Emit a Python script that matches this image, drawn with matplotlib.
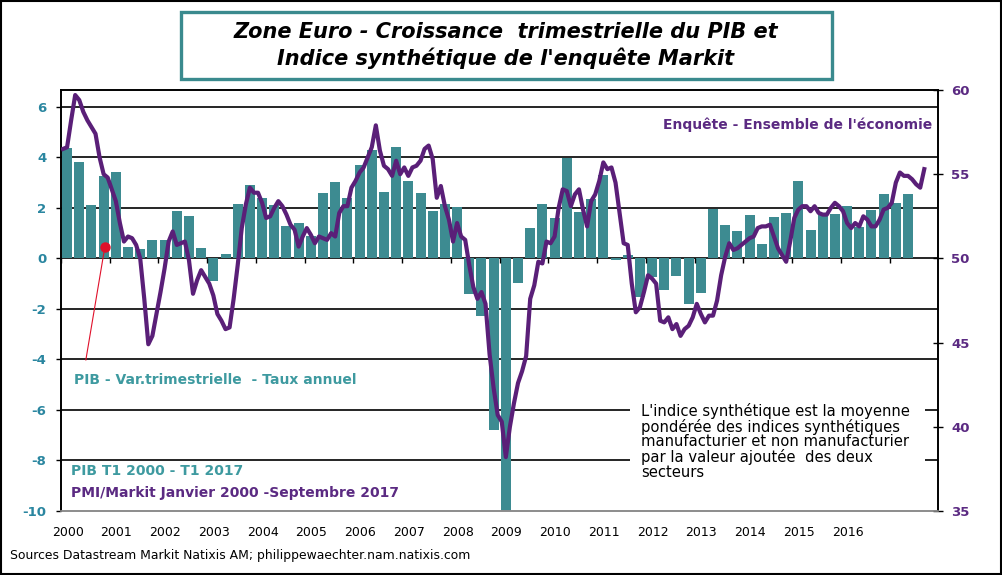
import matplotlib
matplotlib.use("Agg")
import matplotlib.pyplot as plt
import numpy as np
from matplotlib.patches import Rectangle
from matplotlib.transforms import blended_transform_factory

plt.rcParams['font.family'] = ['DejaVu Sans']

# ---------------- data ----------------
year_labels = [str(y) for y in range(2000, 2017)]
tick_years = list(range(2000, 2018))

# Euro area GDP, quarterly growth (annualised), Q1 2000 .. Q2 2017
pib_values = [4.36, 3.82, 2.12, 3.25, 3.43, 0.46, 0.38, 0.73,
              0.73, 1.88, 1.66, 0.42, -0.88, 0.18, 2.16, 2.91,
              2.40, 2.10, 1.29, 1.41, 0.87, 2.59, 3.03, 2.40,
              3.70, 4.30, 2.63, 4.42, 3.07, 2.59, 1.88, 2.16,
              2.04, -1.42, -2.30, -6.79, -11.5, -0.98, 1.21, 2.16,
              1.60, 3.98, 1.84, 2.36, 3.31, -0.05, 0.14, -1.51,
              -0.72, -1.27, -0.68, -1.82, -1.35, 1.97, 1.31, 1.09,
              1.72, 0.57, 1.64, 1.80, 3.07, 1.13, 1.72, 1.76,
              2.08, 1.26, 1.92, 2.55, 2.20, 2.55]
pib_start_year = 2000

# Markit composite PMI, monthly Jan 2000 .. Sep 2017
pmi_values = [
    56.5, 56.6, 58.2, 59.7, 59.4, 58.7, 58.2, 57.8, 57.4, 56.0, 55.0, 54.8,
    54.1, 53.4, 52.1, 51.0, 51.3, 51.2, 50.8, 50.0, 47.6, 44.9, 45.4, 46.7,
    48.0, 49.4, 51.0, 51.6, 50.8, 50.9, 51.0, 49.9, 47.9, 48.7, 49.3, 48.9,
    48.5, 47.8, 46.7, 46.3, 45.8, 45.9, 47.6, 49.6, 51.8, 53.2, 54.2, 53.9,
    53.9, 53.3, 52.4, 52.5, 53.0, 53.4, 53.1, 52.6, 52.0, 51.7, 50.7, 51.3,
    51.8, 51.4, 50.9, 51.3, 51.2, 51.1, 51.5, 51.3, 52.7, 53.1, 53.1, 54.2,
    54.6, 55.1, 55.4, 56.0, 56.6, 57.9, 56.4, 55.5, 55.3, 54.9, 55.8, 55.0,
    55.4, 54.9, 55.4, 55.5, 55.8, 56.5, 56.7, 55.9, 53.6, 54.3, 53.1, 52.3,
    51.0, 52.1, 51.3, 51.1, 49.6, 48.3, 47.6, 48.0, 47.3, 44.3, 42.3, 40.7,
    40.3, 38.2, 40.0, 41.4, 42.6, 43.3, 44.2, 47.6, 48.4, 49.8, 49.7, 51.0,
    50.9, 51.3, 53.0, 54.1, 54.0, 53.1, 53.8, 54.1, 52.9, 51.9, 53.4, 53.8,
    54.6, 55.7, 55.3, 55.4, 54.5, 52.7, 50.9, 50.8, 48.5, 46.8, 47.1, 48.0,
    49.0, 48.8, 48.5, 46.3, 46.2, 46.5, 45.8, 46.1, 45.4, 45.8, 46.0, 46.5,
    47.3, 46.7, 46.2, 46.6, 46.6, 47.5, 49.0, 50.1, 50.9, 50.5, 50.6, 50.8,
    51.0, 51.2, 51.3, 51.8, 51.9, 51.9, 52.0, 51.3, 50.6, 50.2, 49.8, 51.0,
    52.4, 52.9, 53.1, 53.1, 52.8, 53.1, 52.7, 52.6, 52.6, 53.0, 53.3, 53.1,
    52.8, 52.1, 51.8, 52.1, 51.9, 52.5, 52.3, 51.9, 51.9, 52.3, 52.9, 53.0,
    53.3, 54.5, 55.1, 54.9, 54.9, 54.7, 54.4, 54.2, 55.3]
pmi_start_year = 2000

left_ticks = [-10, -8, -6, -4, -2, 0, 2, 4, 6]
right_ticks = [35, 40, 45, 50, 55, 60]

# ---------------- styling ----------------
BAR_COLOR = "#3d8b91"
LINE_COLOR = "#5a1f78"
LEFT_LABEL_COLOR = "#2a86a0"
RIGHT_LABEL_COLOR = "#5b2a82"
LEGEND_TEAL = "#3e9aa0"

fig = plt.figure(figsize=(10.03, 5.75), dpi=100)
ax = fig.add_axes([0.0608, 0.1113, 0.8744, 0.7322])
ax2 = ax.twinx()

x_bars = pib_start_year + (np.arange(len(pib_values)) + 0.5) / 4
x_pmi = pmi_start_year + (np.arange(len(pmi_values)) + 0.5) / 12

ax.set_xlim(2000, 2017.99)
ax.set_ylim(-10, 6.667)
ax2.set_ylim(35, 60)

# grid lines
for v in left_ticks[1:]:
    ax.axhline(v, color="black", lw=1.2, zorder=0)

ax.bar(x_bars, pib_values, width=0.205, color=BAR_COLOR, zorder=2)
ax2.plot(x_pmi, pmi_values, color=LINE_COLOR, lw=3.0, solid_joinstyle="round", zorder=5)

# x axis: labels at bottom, tick marks on zero line
ax.set_xticks([y + 0.135 for y in range(2000, 2017)])
ax.set_xticklabels(year_labels, fontsize=9)
ax.tick_params(axis="x", length=0, pad=11)
trans = blended_transform_factory(ax.transData, ax.transAxes)
zero_frac = (0 - (-10)) / (6.667 + 10)
ax.vlines(tick_years, zero_frac - 0.012, zero_frac, transform=trans,
          color="black", lw=1.0, zorder=3)

ax.set_yticks(left_ticks)
ax.set_yticklabels([str(t) for t in left_ticks], fontsize=9.5,
                   fontweight="bold", color=LEFT_LABEL_COLOR)
ax.tick_params(axis="y", direction="out", length=3.5, width=1, pad=7)

ax2.set_yticks(right_ticks)
ax2.set_yticklabels([str(t) for t in right_ticks], fontsize=9.5,
                    fontweight="bold", color=RIGHT_LABEL_COLOR)
ax2.tick_params(axis="y", direction="inout", length=7, width=1, pad=6)

for a in (ax, ax2):
    a.spines["top"].set_color("black")
    a.spines["top"].set_linewidth(1.2)
    a.spines["left"].set_linewidth(1.2)
    a.spines["right"].set_linewidth(1.2)
    a.spines["bottom"].set_color("#8c8c8c")
    a.spines["bottom"].set_linewidth(1.2)

# red pointer
ax.plot([2000.51, 2000.90], [-4.02, 0.455], color="#e0102a", lw=0.8, zorder=6)
ax.plot([2000.90], [0.455], "o", color="#e0102a", ms=6.5, zorder=7)

# texts
fig.text(0.929, 0.7826, "Enquête - Ensemble de l'économie", ha="right", va="center",
         fontsize=10, fontweight="bold", color=RIGHT_LABEL_COLOR)
fig.text(0.0738, 0.339, "PIB - Var.trimestrielle  - Taux annuel", ha="left", va="center",
         fontsize=10, fontweight="bold", color=LEGEND_TEAL)
fig.text(0.0708, 0.181, "PIB T1 2000 - T1 2017", ha="left", va="center",
         fontsize=10, fontweight="bold", color=LEGEND_TEAL)
fig.text(0.0708, 0.1426, "PMI/Markit Janvier 2000 -Septembre 2017", ha="left", va="center",
         fontsize=10, fontweight="bold", color=RIGHT_LABEL_COLOR)

fig.patches.append(Rectangle((630 / 1003, 1 - 487 / 575), 295 / 1003, 88 / 575,
                             transform=fig.transFigure, facecolor="white",
                             edgecolor="none", zorder=3))
fig.text(641 / 1003, 1 - 403 / 575,
         "L'indice synthétique est la moyenne\npondérée des indices synthétiques\n"
         "manufacturier et non manufacturier\npar la valeur ajoutée  des deux\nsecteurs",
         ha="left", va="top", fontsize=10.6, linespacing=0.98, color="black", zorder=4)

fig.text(10 / 1003, 1 - 556 / 575,
         "Sources Datastream Markit Natixis AM; philippewaechter.nam.natixis.com",
         ha="left", va="center", fontsize=8.9, color="black")

# title box
fig.patches.append(Rectangle((181 / 1003, 1 - 79 / 575), 651 / 1003, 67 / 575,
                             transform=fig.transFigure, facecolor="white",
                             edgecolor="#3a8a8e", lw=2.4))
fig.text(506 / 1003, 1 - 32 / 575, "Zone Euro - Croissance  trimestrielle du PIB et",
         ha="center", va="center", fontsize=15, fontweight="bold", style="italic")
fig.text(506 / 1003, 1 - 58 / 575, "Indice synthétique de l'enquête Markit",
         ha="center", va="center", fontsize=15, fontweight="bold", style="italic")

# outer border
fig.patches.append(Rectangle((0.001, 0.002), 0.997, 0.996, transform=fig.transFigure,
                             facecolor="none", edgecolor="black", lw=1.5))

fig.savefig("out.png", dpi=100)
